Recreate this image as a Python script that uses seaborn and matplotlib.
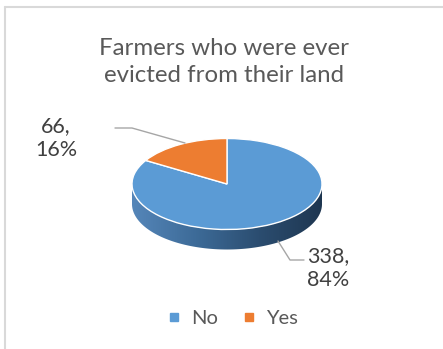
import numpy as np
import matplotlib
matplotlib.use("Agg")
import matplotlib.pyplot as plt
from matplotlib.lines import Line2D
from matplotlib.patches import Polygon
import seaborn as sns

# Survey answers
categories = ["No", "Yes"]
counts = [338, 66]
shares = [84, 16]
title = "Farmers who were ever\nevicted from their land"

sns.set_theme(style="white")
plt.rcParams["font.family"] = ["Lato", "DejaVu Sans"]

W, H = 443, 349
fig = plt.figure(figsize=(W / 100, H / 100), dpi=100)
fig.patch.set_facecolor("white")

palette = sns.color_palette(["#5B9BD5", "#ED7D31"])

# Pie geometry in pixels: centre, half-width, half-height, disc thickness
cx, cy, rx, ry, depth = 227, 184, 95, 45.5, 20

ax = fig.add_axes([0, 0, 1, 1])
wedges, _ = ax.pie(counts, colors=palette, startangle=90, counterclock=False,
                   radius=1.0, center=(0, 0),
                   wedgeprops=dict(edgecolor="white", linewidth=1.0, zorder=3))
ax.set_aspect("auto")
ax.axis("off")

# Side wall of the disc with left-to-right shading
d = depth / ry
t = np.linspace(np.pi, 2 * np.pi, 200)
top = np.column_stack([np.cos(t), np.sin(t)])
bot = np.column_stack([np.cos(t[::-1]), np.sin(t[::-1]) - d])
wall = Polygon(np.vstack([top, bot]), closed=True, facecolor="none",
               edgecolor="none", zorder=1)
ax.add_patch(wall)
shade = matplotlib.colors.LinearSegmentedColormap.from_list(
    "wall", ["#5586b9", "#3d6b98", "#2b4d70", "#1e3650"])
grad = np.linspace(0, 1, 256).reshape(1, -1)
im = ax.imshow(grad, cmap=shade, extent=(-1, 1, -1 - d - 0.05, 0.05),
               aspect="auto", zorder=1, interpolation="bilinear")
im.set_clip_path(wall)
ax.set_xlim(-cx / rx, (W - cx) / rx)
ax.set_ylim(-(H - cy) / ry, cy / ry)


def px(x, y):
    return x / W, 1 - y / H


# Outer frame (top and left edges visible)
frame_c = "#d9d9d9"
fig.add_artist(Line2D([px(5, 7)[0], px(W, 7)[0]], [px(5, 7)[1], px(W, 7)[1]],
                      transform=fig.transFigure, color=frame_c, lw=1.5))
fig.add_artist(Line2D([px(5, 7)[0], px(5, H)[0]], [px(5, 7)[1], px(5, H)[1]],
                      transform=fig.transFigure, color=frame_c, lw=1.5))

# Title
fig.text(*px(224, 62), title, ha="center", va="center", fontsize=17.3,
         color="#595959", linespacing=1.33)

# Data labels with leader lines
lab_c = "#404040"
line_c = "#a6a6a6"
labels = [f"{c},\n{s}%" for c, s in zip(counts, shares)]

fig.text(*px(328, 268), labels[0], ha="center", va="center", fontsize=15.5,
         color=lab_c, linespacing=1.22)
xs, ys = zip(px(278, 241), px(290, 260), px(304, 260))
fig.add_artist(Line2D(xs, ys, transform=fig.transFigure, color=line_c, lw=1.0))

fig.text(*px(56, 138), labels[1], ha="center", va="center", fontsize=15.5,
         color=lab_c, linespacing=1.22)
xs, ys = zip(px(115, 128), px(132, 128), px(185, 143))
fig.add_artist(Line2D(xs, ys, transform=fig.transFigure, color=line_c, lw=1.0))

# Legend
handles = [Line2D([], [], marker="s", linestyle="none", markersize=6,
                  markerfacecolor=col, markeredgecolor=col) for col in palette]
leg = fig.legend(handles, categories, loc="center", bbox_to_anchor=px(232, 318),
                 ncol=2, frameon=False, fontsize=14.5, handlelength=0.8,
                 handletextpad=0.45, columnspacing=1.1)
for txt in leg.get_texts():
    txt.set_color("#595959")

fig.savefig("out.png", dpi=100, facecolor="white")
